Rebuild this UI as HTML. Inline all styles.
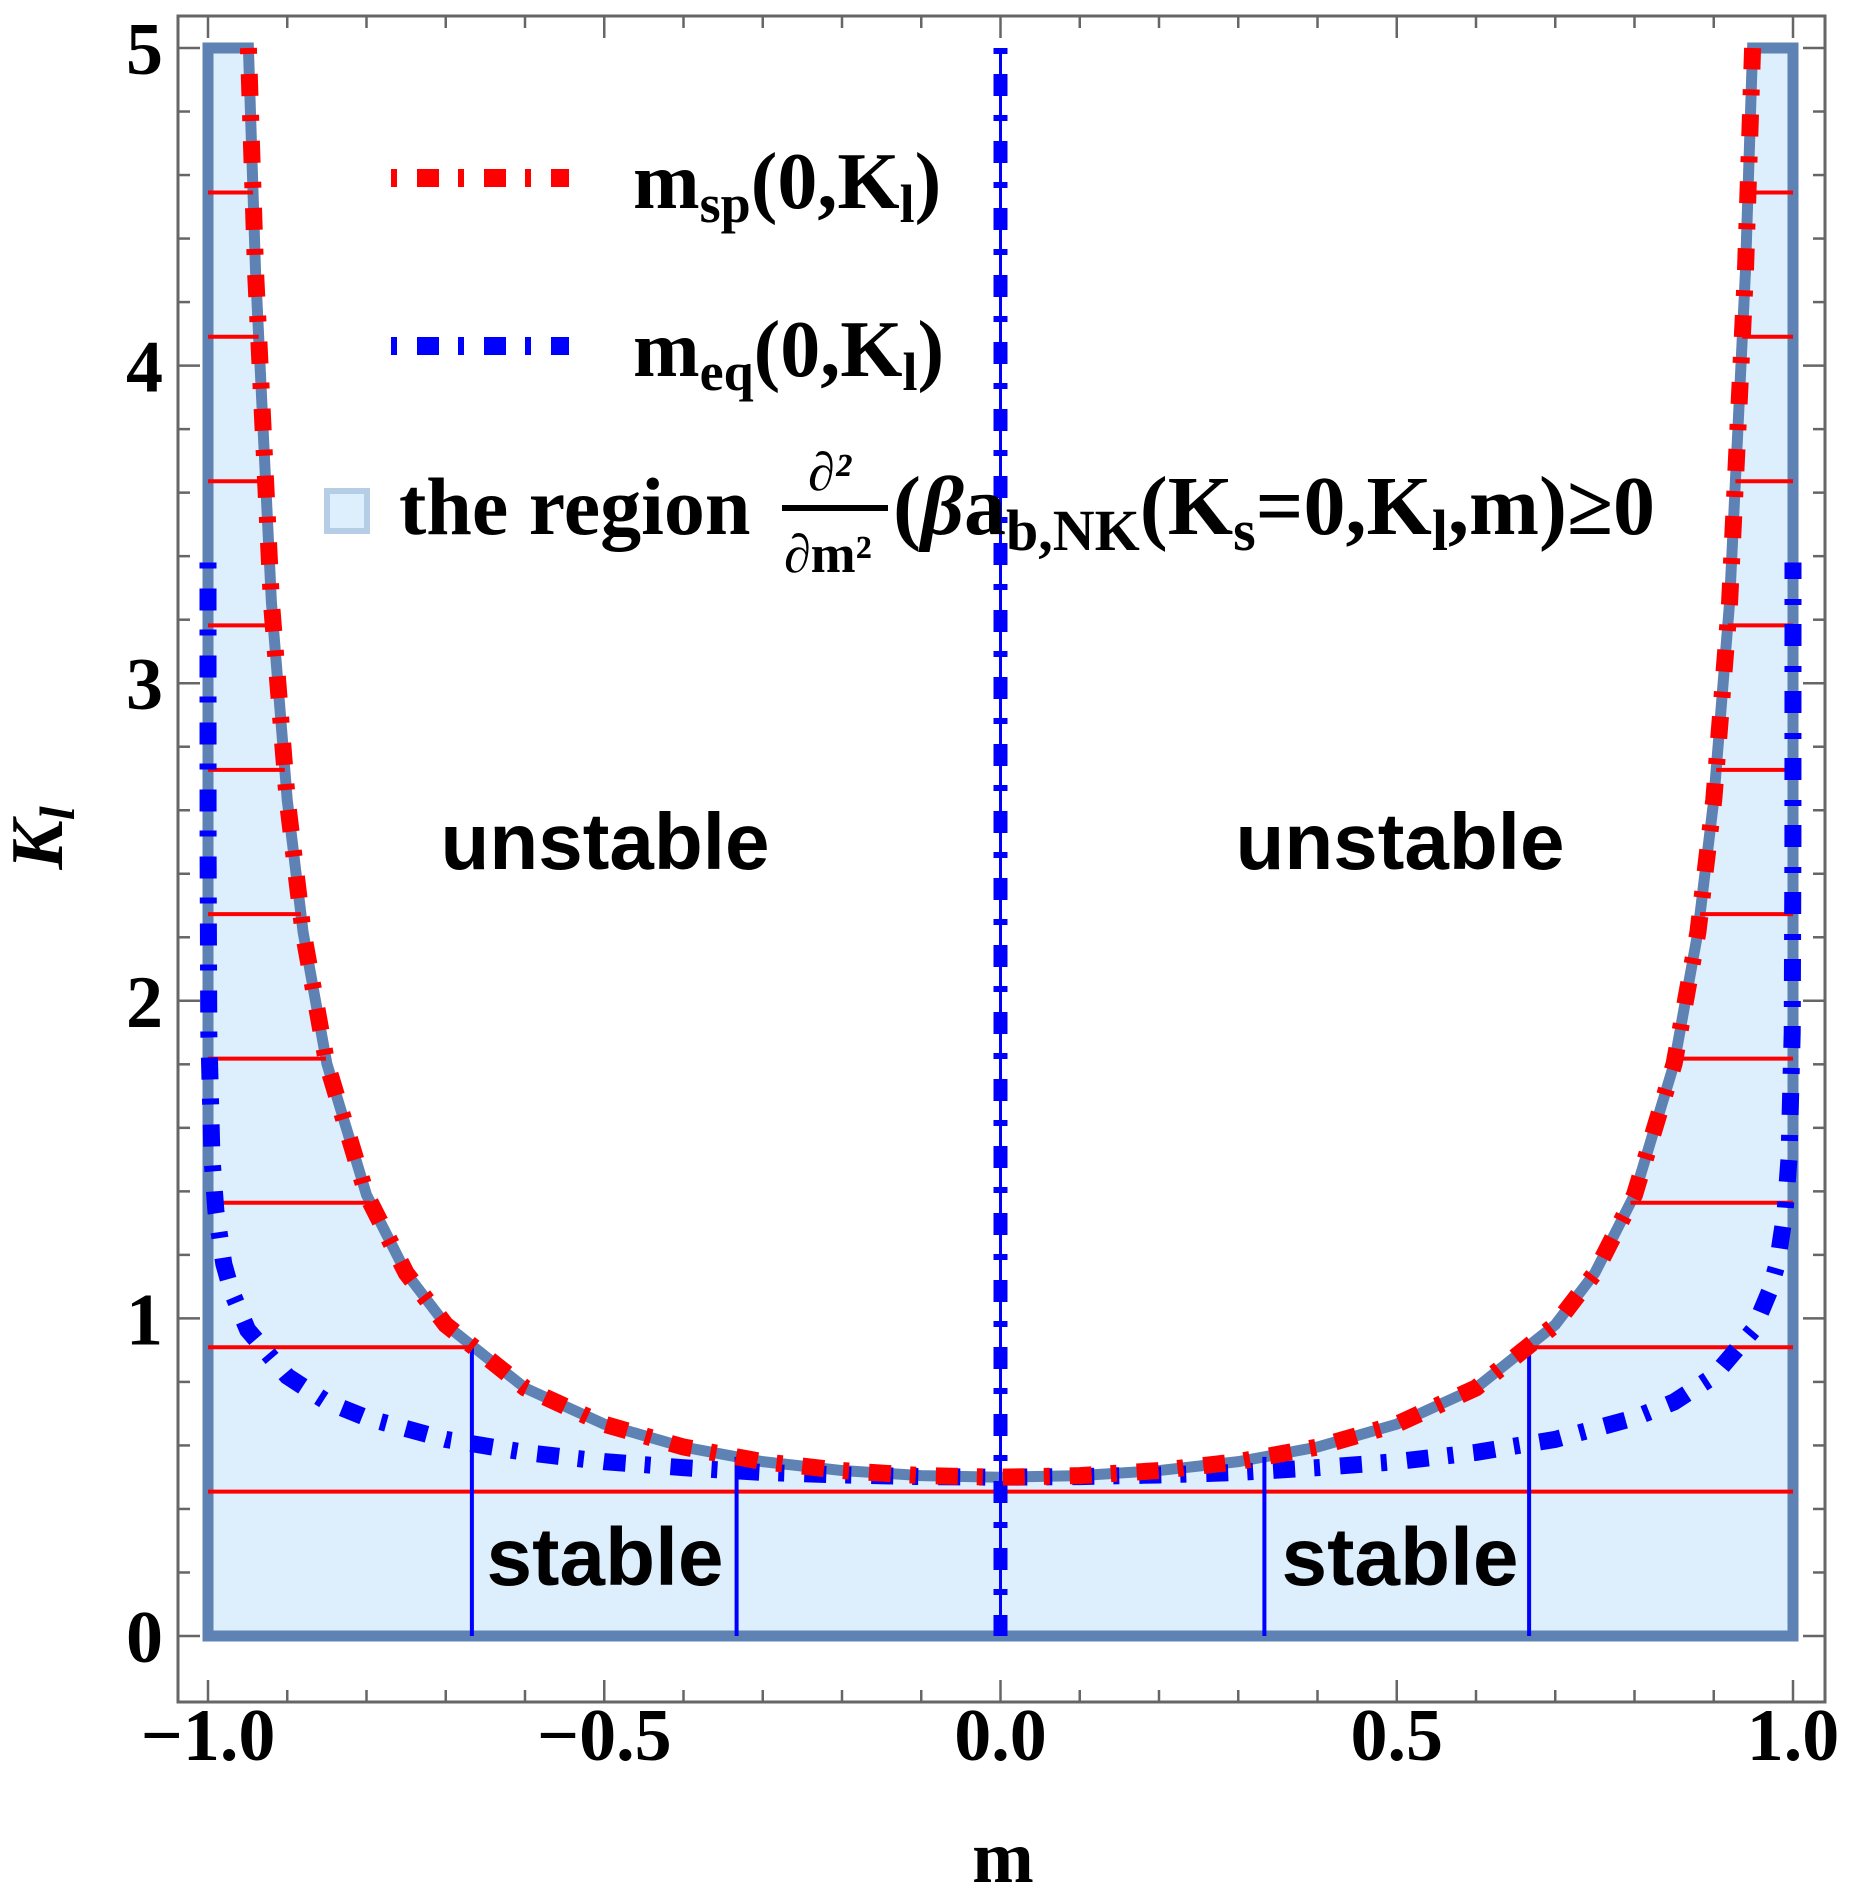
<!DOCTYPE html>
<html><head><meta charset="utf-8"><style>
html,body{margin:0;padding:0;background:#fff}
svg{display:block}
.tn{font-family:"Liberation Serif",serif;font-weight:bold}
.sn{font-family:"Liberation Sans",sans-serif;font-weight:bold}
</style></head><body>
<svg id="chart" width="1851" height="1890" viewBox="0 0 1851 1890" xmlns="http://www.w3.org/2000/svg">
<g id="plot"></g>
<g id="axes"></g>
<g id="legend">
  <line x1="391" y1="178" x2="569" y2="178" stroke="#ff0000" stroke-width="18" stroke-dasharray="6 20 22 19"/>
  <text x="633" y="208" class="tn" font-size="80">m<tspan font-size="54" dy="14">sp</tspan><tspan dy="-14">(0,K</tspan><tspan font-size="54" dy="14">l</tspan><tspan dy="-14">)</tspan></text>
  <line x1="391" y1="346" x2="569" y2="346" stroke="#0000ff" stroke-width="18" stroke-dasharray="6 20 22 19"/>
  <text x="633" y="376" class="tn" font-size="80">m<tspan font-size="54" dy="14">eq</tspan><tspan dy="-14">(0,K</tspan><tspan font-size="54" dy="14">l</tspan><tspan dy="-14">)</tspan></text>
  <rect x="327" y="491" width="40" height="40" fill="#ddeefc" stroke="#b6cde6" stroke-width="6"/>
  <text x="399" y="534" class="tn" font-size="82">the region</text>
  <text x="808" y="490" class="tn" font-size="54" font-style="italic">∂²</text>
  <line x1="782" y1="508" x2="888" y2="508" stroke="#000" stroke-width="6"/>
  <text x="784" y="572" class="tn" font-size="54">∂m²</text>
  <text x="893" y="534" class="tn" font-size="84">(<tspan font-style="italic">β</tspan>a<tspan font-size="58" dy="16">b,NK</tspan><tspan dy="-16">(K</tspan><tspan font-size="58" dy="16">s</tspan><tspan dy="-16">=0,K</tspan><tspan font-size="58" dy="16">l</tspan><tspan dy="-16">,m)≥0</tspan></text>
</g>
<text x="605" y="869" text-anchor="middle" class="sn" font-size="80">unstable</text>
<text x="1400" y="869" text-anchor="middle" class="sn" font-size="80">unstable</text>
<text x="605" y="1585" text-anchor="middle" class="sn" font-size="82">stable</text>
<text x="1400" y="1585" text-anchor="middle" class="sn" font-size="82">stable</text>
<text x="1003" y="1882" text-anchor="middle" class="tn" font-size="74">m</text>
<text transform="translate(62,838) rotate(-90)" text-anchor="middle" class="tn" font-size="74" font-style="italic">K<tspan font-size="50" dy="12">l</tspan></text>
</svg>
<script>
// ---- data ----
const spM = [0, 0.1, 0.2, 0.3, 0.4, 0.5, 0.6, 0.7, 0.75, 0.8, 0.85, 0.88, 0.9, 0.92, 0.94, 0.949];
const spK = [0.5, 0.505, 0.521, 0.549, 0.595, 0.667, 0.781, 0.98, 1.143, 1.389, 1.802, 2.216, 2.632, 3.255, 4.296, 5.0];
const eqM = [0, 0.1, 0.2, 0.3, 0.4, 0.5, 0.6, 0.7, 0.8, 0.85, 0.9, 0.95, 0.97, 0.98, 0.99, 0.995, 0.999, 0.9999, 0.99999, 1.0];
const eqK = [0.5, 0.502, 0.507, 0.515, 0.53, 0.549, 0.578, 0.619, 0.687, 0.737, 0.818, 0.964, 1.083, 1.171, 1.337, 1.505, 1.901, 2.48, 3.05, 3.38];
const hLinesK = [0.4545, 0.909, 1.364, 1.818, 2.273, 2.727, 3.182, 3.636, 4.091, 4.545];
const vLinesM = [-0.667, -0.333, 0.333, 0.667];
const xTicks = [-1.0, -0.5, 0.0, 0.5, 1.0];
const xTickLabels = ["\u22121.0", "\u22120.5", "0.0", "0.5", "1.0"];
const yTicks = [0, 1, 2, 3, 4, 5];
const yTickLabels = ["0", "1", "2", "3", "4", "5"];

const X0 = 208, X1 = 1793, Y0 = 1636, Y5 = 48;
const xs = m => X0 + (m + 1) / 2 * (X1 - X0);
const ys = k => Y0 - k / 5 * (Y0 - Y5);
const NS = "http://www.w3.org/2000/svg";
function mk(tag, attrs, parent) {
  const e = document.createElementNS(NS, tag);
  for (const k in attrs) e.setAttribute(k, attrs[k]);
  parent.appendChild(e);
  return e;
}
function spAt(m) {
  const a = Math.abs(m);
  for (let i = 1; i < spM.length; i++) if (a <= spM[i]) {
    const t = (a - spM[i-1]) / (spM[i] - spM[i-1]);
    return spK[i-1] + t * (spK[i] - spK[i-1]);
  }
  return spK[spK.length-1];
}
function mAtK(k) {
  for (let i = 1; i < spK.length; i++) if (k <= spK[i]) {
    const t = (k - spK[i-1]) / (spK[i] - spK[i-1]);
    return spM[i-1] + t * (spM[i] - spM[i-1]);
  }
  return spM[spM.length-1];
}
const plot = document.getElementById('plot');
const axes = document.getElementById('axes');

let pts = [[-1,0],[-1,5]];
for (let i = spM.length-1; i >= 0; i--) pts.push([-spM[i], spK[i]]);
for (let i = 1; i < spM.length; i++) pts.push([spM[i], spK[i]]);
pts.push([1,5],[1,0]);
const region = mk('polygon', {points: pts.map(p => xs(p[0]) + ',' + ys(p[1])).join(' '), fill: '#ddeefc', stroke: '#5f82b4', 'stroke-width': 11, 'stroke-linejoin': 'miter'}, plot);



hLinesK.forEach((k, i) => {
  if (k < spK[0]) {
    const l = mk('line', {x1: xs(-1), x2: xs(1), y1: ys(k), y2: ys(k), stroke: '#ff0000', 'stroke-width': 4}, plot);
    
    
  } else {
    const mm = mAtK(k);
    [[-1, -mm], [mm, 1]].forEach(s => {
      const l = mk('line', {x1: xs(s[0]), x2: xs(s[1]), y1: ys(k), y2: ys(k), stroke: '#ff0000', 'stroke-width': 4}, plot);
      
      
    });
  }
});
vLinesM.forEach(m => {
  const l = mk('line', {x1: xs(m), x2: xs(m), y1: ys(0), y2: ys(spAt(m)), stroke: '#0000ff', 'stroke-width': 4}, plot);
  
  
});

function curvePath(M, K) {
  let d = '';
  for (let i = M.length-1; i >= 0; i--) d += (d ? 'L' : 'M') + xs(-M[i]) + ' ' + ys(K[i]) + ' ';
  for (let i = 1; i < M.length; i++) d += 'L' + xs(M[i]) + ' ' + ys(K[i]) + ' ';
  return d;
}
const eq = mk('path', {d: curvePath(eqM, eqK), fill: 'none', stroke: '#0000ff', 'stroke-width': 17, 'stroke-dasharray': '6 20 22 19'}, plot);


const eq0 = mk('line', {x1: xs(0), x2: xs(0), y1: ys(5), y2: ys(0), stroke: '#0000ff', 'stroke-width': 14, 'stroke-dasharray': '6 20 22 19'}, plot);


const eq0t = mk('line', {x1: xs(0), x2: xs(0), y1: ys(5), y2: ys(0), stroke: '#0000ff', 'stroke-width': 3}, plot);


const sp = mk('path', {d: curvePath(spM, spK), fill: 'none', stroke: '#ff0000', 'stroke-width': 17, 'stroke-dasharray': '6 20 22 19'}, plot);



const L = 178, R = 1825, T = 16, B = 1702;
const fr = mk('rect', {x: L, y: T, width: R - L, height: B - T, fill: 'none', stroke: '#666', 'stroke-width': 3}, axes);


for (let i = 0; i <= 20; i++) {
  const m = -1 + i * 0.1, x = xs(m), major = i % 5 === 0, len = major ? 22 : 12;
  const t1 = mk('line', {x1: x, x2: x, y1: B, y2: B - len, stroke: '#666', 'stroke-width': 2.5}, axes);
  
  
  const t2 = mk('line', {x1: x, x2: x, y1: T, y2: T + len, stroke: '#666', 'stroke-width': 2.5}, axes);
  
  
}
for (let i = 0; i <= 25; i++) {
  const k = i * 0.2, y = ys(k), major = i % 5 === 0, len = major ? 22 : 12;
  const t1 = mk('line', {x1: L, x2: L + len, y1: y, y2: y, stroke: '#666', 'stroke-width': 2.5}, axes);
  
  
  const t2 = mk('line', {x1: R, x2: R - len, y1: y, y2: y, stroke: '#666', 'stroke-width': 2.5}, axes);
  
  
}
xTicks.forEach((m, i) => {
  const t = mk('text', {x: xs(m), y: 1760, 'text-anchor': 'middle', class: 'tn', 'font-size': 74}, axes);
  t.textContent = xTickLabels[i];
  
  
});
yTicks.forEach((k, i) => {
  const t = mk('text', {x: 163, y: ys(k) + 26, 'text-anchor': 'end', class: 'tn', 'font-size': 74}, axes);
  t.textContent = yTickLabels[i];
  
  
});
</script>
</body></html>
